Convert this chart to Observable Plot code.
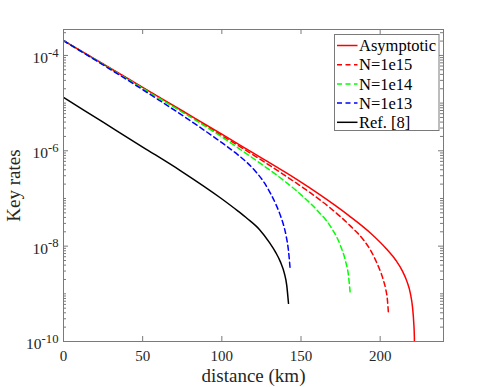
<!DOCTYPE html>
<html><head><meta charset="utf-8">
<script src="https://cdn.jsdelivr.net/npm/d3@7"></script>
<script src="https://cdn.jsdelivr.net/npm/@observablehq/plot@0.6"></script>
<style>
html,body{margin:0;padding:0;background:#fff;}
#wrap{position:relative;width:491px;height:387px;}
#wrap svg{display:block;}
#legend{position:absolute;}
</style></head><body><div id="wrap"></div>
<script>
// ---- series meta ----
const seriesNames  = ["Asymptotic", "N=1e15", "N=1e14", "N=1e13", "Ref. [8]"];
const seriesColors = ["#ff0000", "#ff0000", "#00ff00", "#0000ff", "#000000"];
const seriesDashed = [false, true, true, true, false];

// ---- data (distance km, key rate) ----
const asymDist = [0, 25, 50, 75, 100, 120, 140, 150, 160, 170, 181, 194, 204, 210, 214, 217, 219, 220.5, 221.2, 221.6, 221.8];
const asymRate = [2.06e-4, 6.61e-5, 2.14e-5, 6.92e-6, 2.24e-6, 8.91e-7, 3.55e-7, 2.19e-7, 1.32e-7, 7.76e-8, 4.17e-8, 1.86e-8, 8.71e-9, 5.01e-9, 3.02e-9, 1.78e-9, 1.05e-9, 5.01e-10, 2.51e-10, 1.26e-10, 4e-11];

const n15Dist = [0, 50, 100, 120, 140, 155, 168.5, 181, 189.5, 195, 198, 200.5, 202, 203.5, 204.5, 205.3];
const n15Rate = [2.04e-4, 2.09e-5, 2.09e-6, 8.13e-7, 3.02e-7, 1.38e-7, 6.31e-8, 2.69e-8, 1.35e-8, 7.08e-9, 4.37e-9, 2.75e-9, 1.95e-9, 1.26e-9, 7.94e-10, 3.63e-10];

const n14Dist = [0, 50, 100, 112, 125, 139, 150, 160, 168.5, 174.8, 178, 180, 181];
const n14Rate = [2.04e-4, 2.04e-5, 1.95e-6, 1.05e-6, 5.25e-7, 2.40e-7, 1.20e-7, 5.75e-8, 2.63e-8, 1.05e-8, 5.01e-9, 2.40e-9, 1.10e-9];

const n13Dist = [0, 30, 60, 85, 100, 110, 116, 122, 127, 131, 134.5, 137, 139, 140.7, 142, 143.2];
const n13Rate = [2.04e-4, 5.01e-5, 1.175e-5, 3.31e-6, 1.48e-6, 8.32e-7, 5.62e-7, 3.47e-7, 2.09e-7, 1.23e-7, 7.08e-8, 4.37e-8, 2.75e-8, 1.585e-8, 8.51e-9, 3.16e-9];

const refDist = [0, 25, 50, 74, 99, 110, 116, 124, 130, 134, 137, 139.5, 141, 142.1];
const refRate = [1.32e-5, 3.98e-6, 1.20e-6, 3.80e-7, 1.035e-7, 5.50e-8, 3.80e-8, 2.19e-8, 1.20e-8, 7.41e-9, 4.68e-9, 2.69e-9, 1.51e-9, 6.31e-10];

// ---- ticks ----
const xTicks = [0, 50, 100, 150, 200];
const yLabelTicks = [1e-10, 1e-8, 1e-6, 1e-4];
const xLabel = "distance (km)";
const yLabel = "Key rates";

// ---- build table ----
const allDist = [asymDist, n15Dist, n14Dist, n13Dist, refDist];
const allRate = [asymRate, n15Rate, n14Rate, n13Rate, refRate];
const rows = [];
seriesNames.forEach((name, i) => allDist[i].forEach((d, j) => rows.push({series: name, d, r: allRate[i][j]})));

// minor ticks (2..9 x each decade) and decade ticks
const yDecades = d3.range(-10, -3).map(e => Math.pow(10, e));
const yMinor = [];
d3.range(-10, -3).forEach(e => d3.range(2, 10).forEach(m => { const v = m * Math.pow(10, e); if (v <= 3.5e-4) yMinor.push(v); }));
const yDecMinor = yDecades.filter(v => !yLabelTicks.includes(v));

const W = 491, H = 387, mL = 63, mR = 48, mT = 29, mB = 46;
const plotW = W - mL - mR, plotH = H - mT - mB;
const axisColor = "#7a7a7a";
const font = "'Liberation Serif', 'Times New Roman', serif";

const lineMarks = seriesNames.map((name, i) => {
  const opts = {x: "d", y: "r", stroke: seriesColors[i], strokeWidth: 1.5, clip: true, curve: "monotone-x"};
  if (seriesDashed[i]) opts.strokeDasharray = "5,3.5";
  return Plot.line(rows.filter(r => r.series === name), opts);
});

const chart = Plot.plot({
  width: W, height: H,
  marginLeft: mL, marginRight: mR, marginTop: mT, marginBottom: mB,
  style: {fontFamily: font, fontSize: "15px", color: "#262626", background: "#fff"},
  x: {domain: [0, 240]},
  y: {type: "log", domain: [1e-10, 3.5e-4]},
  marks: [
    ...lineMarks,
    Plot.tickX(xTicks, {x: d => d, insetTop: plotH - 5, stroke: axisColor}),
    Plot.tickX(xTicks, {x: d => d, insetBottom: plotH - 5, stroke: axisColor}),
    Plot.tickY(yLabelTicks, {y: d => d, insetRight: plotW - 5, stroke: axisColor}),
    Plot.tickY(yLabelTicks, {y: d => d, insetLeft: plotW - 5, stroke: axisColor}),
    Plot.tickY(yDecMinor.concat(yMinor), {y: d => d, insetRight: plotW - 3, stroke: axisColor}),
    Plot.tickY(yDecMinor.concat(yMinor), {y: d => d, insetLeft: plotW - 3, stroke: axisColor}),
    Plot.axisX({ticks: xTicks, tickSize: 0, tickPadding: 9, label: null, tickFormat: d => String(d)}),
    Plot.axisX({ticks: [], label: xLabel, labelAnchor: "center", labelOffset: 40, fontSize: 19, labelArrow: "none"}),
    Plot.axisY({ticks: yLabelTicks, tickSize: 0, tickPadding: 5, label: null, dy: 2.5, fontSize: 15.5,
                tickFormat: d => "10^" + Math.round(Math.log10(d))}),
    Plot.axisY({ticks: [], label: yLabel, labelAnchor: "center", labelOffset: 57, fontSize: 19, labelArrow: "none"}),
    Plot.frame({stroke: axisColor})
  ]
});

// superscript exponents
const NS = "http://www.w3.org/2000/svg";
chart.querySelectorAll('g[aria-label="y-axis tick label"] text').forEach(t => {
  const s = t.textContent;
  const parts = s.split("^");
  if (parts.length !== 2) return;
  while (t.firstChild) t.removeChild(t.firstChild);
  t.appendChild(document.createTextNode(parts[0]));
  const sup = document.createElementNS(NS, "tspan");
  sup.setAttribute("dy", "-0.5em");
  sup.setAttribute("font-size", "0.82em");
  sup.textContent = parts[1];
  t.appendChild(sup);
});

const wrap = document.getElementById("wrap");
wrap.appendChild(chart);

// ---- legend ----
const lg = d3.select(wrap).append("svg").attr("id", "legend")
  .attr("width", 106).attr("height", 98)
  .style("left", "333.5px").style("top", "33.5px");
lg.append("rect").attr("x", 0.5).attr("y", 0.5).attr("width", 104.5).attr("height", 96)
  .attr("fill", "#fff").attr("stroke", axisColor);
seriesNames.forEach((name, i) => {
  const cy = 11.5 + i * 19.2;
  lg.append("line").attr("x1", 3).attr("x2", 23.5).attr("y1", cy).attr("y2", cy)
    .attr("stroke", seriesColors[i]).attr("stroke-width", 1.5)
    .attr("stroke-dasharray", seriesDashed[i] ? "5,3.5" : null);
  lg.append("text").attr("x", 25).attr("y", cy).attr("dy", "0.34em")
    .attr("font-family", font).attr("font-size", 16.5).attr("fill", "#000").text(name);
});
</script>
</body></html>
